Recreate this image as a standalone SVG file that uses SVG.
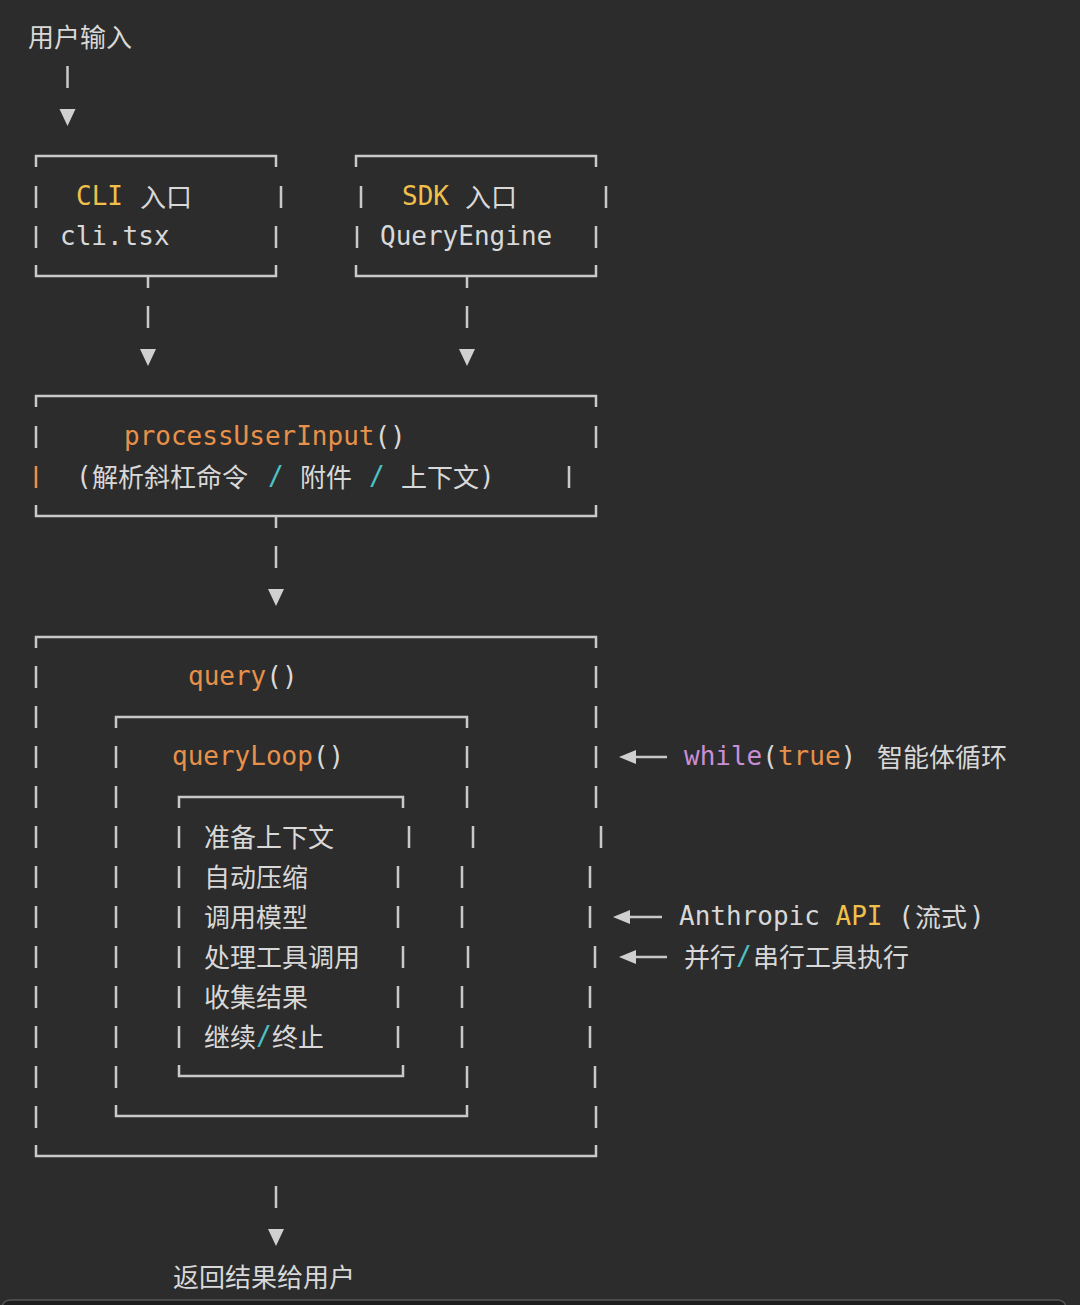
<svg xmlns="http://www.w3.org/2000/svg" width="1080" height="1305" viewBox="0 0 1080 1305">
<style>
.m{font-family:"DejaVu Sans Mono","Liberation Mono",monospace;font-size:26px;fill:#d8d8d8}
.c{font-family:"Noto Sans CJK SC","Noto Sans",sans-serif;font-size:26px;fill:#d8d8d8}
.ln{fill:none;stroke:#c9c9c9;stroke-width:2.5}
.tri{fill:#d0d0d0}
.y{fill:#f0c04c}
.o{fill:#e8914a}
.p{fill:#c98fd6}
.cy{fill:#4cc3c6}
</style>
<rect width="1080" height="1305" fill="#2c2c2c"/>
<rect x="2" y="1300" width="1064" height="30" rx="8" fill="#1e1e1e" stroke="#555" stroke-width="1.5"/>

<g id="node-user-input">
<text class="c" x="28" y="47">用户输入</text>
</g>

<g id="node-cli">
<path class="ln" d="M36 167V156H276V167M36 265V276H276V265M36 186v22M281 186v22M36 226v22M276 226v22"/>
<text class="m y" x="76" y="205">CLI</text>
<text class="c" x="140" y="207">入口</text>
<text class="m" x="60" y="245">cli.tsx</text>
</g>

<g id="node-sdk">
<path class="ln" d="M356 167V156H596V167M356 265V276H596V265M361 186v22M606 186v22M357 226v22M596 226v22"/>
<text class="m y" x="402" y="205">SDK</text>
<text class="c" x="465" y="207">入口</text>
<text class="m" x="380" y="245">QueryEngine</text>
</g>

<g id="node-process">
<path class="ln" d="M36 407V396H596V407M36 505V516H596V505M36 426v22M596 426v22M569 466v22"/>
<path d="M36 466v22" fill="none" stroke="#e8914a" stroke-width="2.5"/>
<text class="m" x="124" y="445"><tspan class="o">processUserInput</tspan>()</text>
<text class="m" x="76" y="485">(</text>
<text class="c" x="92" y="487">解析斜杠命令</text>
<text class="m cy" x="268" y="485">/</text>
<text class="c" x="300" y="487">附件</text>
<text class="m cy" x="369" y="485">/</text>
<text class="c" x="401" y="487">上下文</text>
<text class="m" x="479" y="485">)</text>
</g>

<g id="node-query">
<path class="ln" d="M36 648V637H596V648M36 1145V1156H596V1145"/>
<path class="ln" d="M36 666v22M36 706v22M36 746v22M36 786v22M36 826v22M36 866v22M36 906v22M36 946v22M36 986v22M36 1026v22M36 1066v22M36 1106v22M596 666v22M596 706v22M596 746v22M596 786v22M601 826v22M590 866v22M590 906v22M595 946v22M590 986v22M590 1026v22M595 1066v22M596 1106v22"/>
<text class="m" x="188" y="685"><tspan class="o">query</tspan>()</text>
</g>

<g id="node-queryloop">
<path class="ln" d="M116 728V717H467V728M116 1105V1116H467V1105"/>
<path class="ln" d="M116 746v22M116 786v22M116 826v22M116 866v22M116 906v22M116 946v22M116 986v22M116 1026v22M116 1066v22M467 746v22M467 786v22M473 826v22M462 866v22M462 906v22M468 946v22M462 986v22M462 1026v22M467 1066v22"/>
<text class="m" x="172" y="765"><tspan class="o">queryLoop</tspan>()</text>
</g>

<g id="node-steps">
<path class="ln" d="M179 808V797H403V808M179 1065V1076H403V1065"/>
<path class="ln" d="M179 826v22M179 866v22M179 906v22M179 946v22M179 986v22M179 1026v22M409 826v22M398 866v22M398 906v22M403 946v22M398 986v22M398 1026v22"/>
<text class="c" x="204" y="847">准备上下文</text>
<text class="c" x="204" y="887">自动压缩</text>
<text class="c" x="204" y="927">调用模型</text>
<text class="c" x="204" y="967">处理工具调用</text>
<text class="c" x="204" y="1007">收集结果</text>
<text class="c" x="204" y="1047">继续</text>
<text class="m cy" x="256" y="1045">/</text>
<text class="c" x="272" y="1047">终止</text>
</g>

<g id="node-while-label">
<text class="m" x="684" y="765"><tspan class="p">while</tspan>(<tspan class="o">true</tspan>)</text>
<text class="c" x="877" y="767">智能体循环</text>
</g>

<g id="node-api-label">
<text class="m" x="679" y="925">Anthropic <tspan class="y">API</tspan> (</text>
<text class="c" x="915" y="927">流式</text>
<text class="m" x="969" y="925">)</text>
</g>

<g id="node-tools-label">
<text class="c" x="684" y="967">并行</text>
<text class="m cy" x="736" y="965">/</text>
<text class="c" x="753" y="967">串行工具执行</text>
</g>

<g id="node-return">
<text class="c" x="173" y="1287">返回结果给用户</text>
</g>

<g id="connectors">
<path class="ln" d="M67.5 66v22M148 277v11M148 306v22M467 277v11M467 306v22M276 517v11M276 546v22M276 1186v22"/>
<path class="tri" d="M59.5 109H75.5L67.5 126ZM140 349H156L148 366ZM459 349H475L467 366ZM268 589H284L276 606ZM268 1229H284L276 1246Z"/>
<path class="ln" d="M633 757H667M627 917H662M633 957H667"/>
<path class="tri" d="M619 757L636 750V764ZM613 917L630 910V924ZM619 957L636 950V964Z"/>
</g>
</svg>
